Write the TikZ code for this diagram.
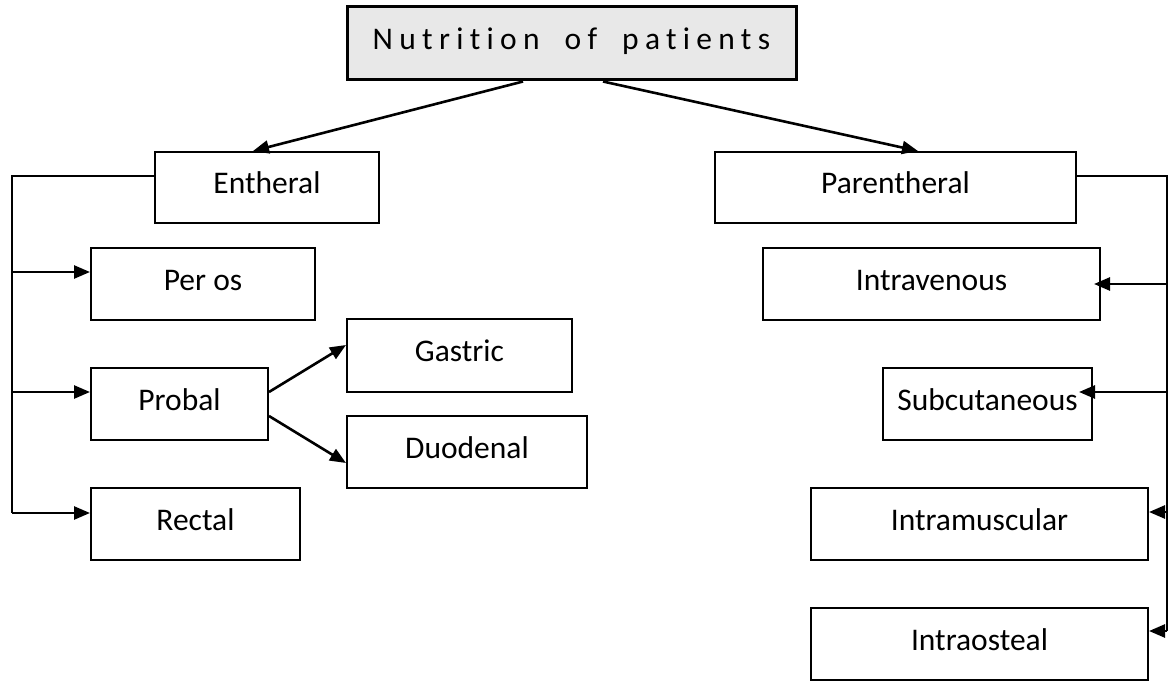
\documentclass[tikz,border=0pt]{standalone}
\usepackage{fontspec}
\setmainfont[Ligatures=NoCommon]{Carlito}
\newfontfamily\titlefont[LetterSpace=20,Ligatures=NoCommon]{Carlito}
\usetikzlibrary{arrows.meta}
\definecolor{titlegray}{HTML}{E8E8E8}

\tikzset{
  box/.style={draw, line width=2pt, inner sep=0pt,
    font=\fontsize{31.5}{38}\selectfont, text height=22pt, text depth=9.5pt},
  link/.style={line width=2pt},
  arr/.style={line width=2.6pt, -{Triangle[length=16pt,width=13pt]}}
}
\newcommand{\wgap}{\hspace{25pt}}

\begin{document}
\begin{tikzpicture}[x=1pt,y=-1pt]
    \useasboundingbox (0,0) rectangle (1171,682);

    % --- TITLE ---
    \node[box, line width=3pt, fill=titlegray, minimum width=449, minimum height=73] (title) at (571.5,43.5) {\titlefont Nutrition\wgap of\wgap patients};

    % --- MAIN BRANCHES ---
    \node[box, minimum width=224, minimum height=71] (ent) at (267,187.5) {Entheral};
    \node[box, minimum width=361, minimum height=71] (par) at (895.5,187.5) {Parentheral};

    % Entheral side
    \node[box, minimum width=224, minimum height=72] (peros) at (203,284) {Per os};
    \node[box, minimum width=177, minimum height=72] (probal) at (179.5,404) {Probal};
    \node[box, minimum width=209, minimum height=72] (rectal) at (195.5,524) {Rectal};
    \node[box, minimum width=225, minimum height=73] (gastric) at (459.5,355.5) {Gastric};
    \node[box, minimum width=240, minimum height=72] (duodenal) at (467,452) {Duodenal};

    % Parentheral side
    \node[box, minimum width=337, minimum height=72] (intrav) at (931.5,284) {Intravenous};
    \node[box, minimum width=209, minimum height=72] (subcut) at (987.5,404) {Subcutaneous};
    \node[box, minimum width=337, minimum height=72] (intram) at (979.5,524) {Intramuscular};
    \node[box, minimum width=337, minimum height=72] (intrao) at (979.5,644) {Intraosteal};

    % --- CONNECTORS ---
    % Title to the two branches
    \draw[arr] ([xshift=-48.5pt]title.south) -- ([xshift=-14pt]ent.north);
    \draw[arr] ([xshift=31.5pt]title.south) -- ([xshift=22.5pt]par.north);

    % Left trunk
    \coordinate (ltop) at (12,176);
    \coordinate (lbot) at (12,513);
    \draw[link] ([yshift=11.5pt]ent.west) -- (ltop) -- (lbot);
    \foreach \n/\dy in {peros/12, probal/12, rectal/11} {
        \coordinate (\n-in) at ([yshift=\dy pt]\n.west);
        \draw[arr] (ltop |- \n-in) -- (\n-in);
    }

    % Probal splits in two
    \draw[arr] ([yshift=12pt]probal.east) -- ([yshift=10.5pt]gastric.west);
    \draw[arr] ([yshift=-12pt]probal.east) -- ([yshift=-11pt]duodenal.west);

    % Right trunk
    \coordinate (rtop) at (1167,176);
    \coordinate (rbot) at (1167,631);
    \draw[link] ([yshift=11.5pt]par.east) -- (rtop) -- (rbot);
    \foreach \n/\dx/\dy in {intrav/-7/0, subcut/-14/12, intram/0/12, intrao/0/13} {
        \coordinate (\n-in) at ([xshift=\dx pt, yshift=\dy pt]\n.east);
        \draw[arr] (rtop |- \n-in) -- (\n-in);
    }

\end{tikzpicture}
\end{document}
